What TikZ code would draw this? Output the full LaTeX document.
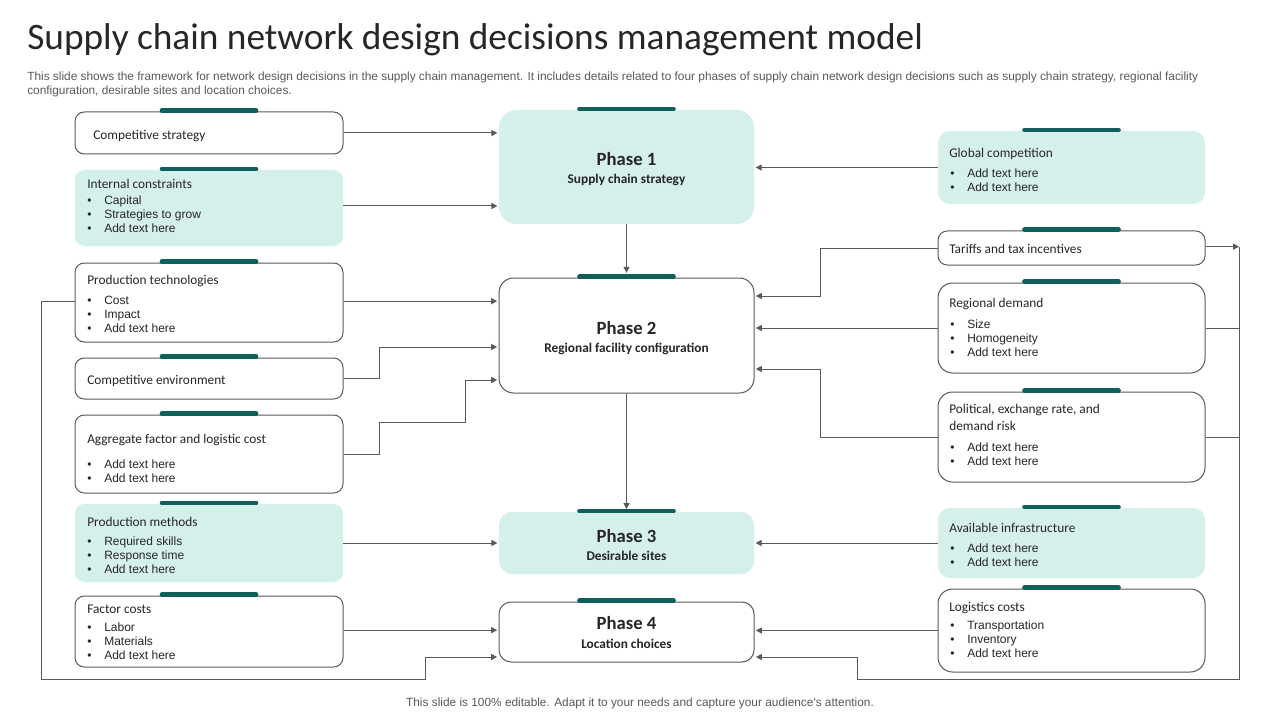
\documentclass[tikz,border=0pt]{standalone}
\usepackage{fontspec}
\setmainfont{Carlito}
\newfontfamily\arial{Liberation Sans}
\usetikzlibrary{arrows.meta,fit}
\definecolor{tealfill}{HTML}{D5F0EB}
\definecolor{tealbar}{HTML}{0F5F5B}
\definecolor{linegray}{HTML}{595959}
\definecolor{txt}{HTML}{262626}
\definecolor{desc}{HTML}{595959}
\tikzset{
 wbox/.style={draw=linegray, line width=0.75pt, fill=white, rounded corners=7pt, inner sep=0pt},
 wboxbig/.style={wbox, rounded corners=11pt},
 tbox/.style={fill=tealfill, rounded corners=7pt, inner sep=0pt},
 tboxbig/.style={tbox, rounded corners=13pt},
 topbar/.style={draw=tealbar, line width=3.4pt, line cap=round},
 conn/.style={draw=linegray, line width=0.75pt},
 arr/.style={conn, -{Triangle[length=4.5pt,width=4.5pt]}, shorten >=1pt},
 ttl/.style={anchor=base west, inner sep=0pt, font=\fontsize{10}{12}\selectfont, text=txt},
 bul/.style={anchor=base west, inner sep=0pt, font=\arial\fontsize{9}{10.5}\selectfont, text=txt},
 ph/.style={anchor=base, inner sep=0pt, font=\bfseries\fontsize{14}{16}\selectfont, text=txt},
 phs/.style={anchor=base, inner sep=0pt, font=\bfseries\fontsize{10}{12}\selectfont, text=txt},
 dsc/.style={inner sep=0pt, font=\arial\fontsize{8.9}{10.5}\selectfont, text=desc},
}
\newcommand\bitem[1]{\makebox[12.75pt][l]{\textbullet}#1}
\newcommand\blist[1]{\begin{tabular}[t]{@{}l@{}}#1\end{tabular}}
\newcommand\tbar[1]{\draw[topbar] ([xshift=-35.3pt,yshift=0.6pt]#1.north) -- ([xshift=35.3pt,yshift=0.6pt]#1.north);}
\begin{document}
\begin{tikzpicture}[x=0.75pt,y=-0.75pt]
\fill[white] (0,0) rectangle (1280,720);
\useasboundingbox (0,0) rectangle (1280,720);

% title and texts
\node[anchor=base west, inner sep=0pt, font=\fontsize{28}{34}\selectfont, text=txt] (title) at (27,50) {Supply chain network design decisions management model};
\node[dsc, anchor=base west] (d1) at (27,81) {This slide shows the framework for network design decisions in the supply chain management. It includes details related to four phases of supply chain network design decisions such as supply chain strategy, regional facility};
\node[dsc, anchor=base west] (d2) at (27,95) {configuration, desirable sites and location choices.};
\node[dsc, anchor=base] (foot) at (640,706) {This slide is 100\% editable. Adapt it to your needs and capture your audience's attention.};

% left boxes
\node[wbox, fit={(75,112)(343,154)}] (cs) {};
\node[tbox, fit={(75,170)(343,246)}] (ic) {};
\node[wbox, fit={(75,263)(343,342)}] (pt) {};
\node[wbox, fit={(75,358)(343,399)}] (ce) {};
\node[wbox, fit={(75,415)(343,493)}] (ag) {};
\node[tbox, fit={(75,504)(343,582)}] (pm) {};
\node[wbox, fit={(75,596)(343,667)}] (fc) {};
% phases
\node[tboxbig, fit={(499,110)(754,224)}] (p1) {};
\node[wboxbig, fit={(499,278)(754,393)}] (p2) {};
\node[tbox, rounded corners=10pt, fit={(499,512)(754,574)}] (p3) {};
\node[wbox, rounded corners=9pt, fit={(499,602)(754,662)}] (p4) {};
% right boxes
\node[tbox, rounded corners=9pt, fit={(938,131)(1205,204)}] (gc) {};
\node[wbox, fit={(938,231)(1205,265)}] (ta) {};
\node[wboxbig, fit={(938,283)(1205,373)}] (rd) {};
\node[wboxbig, fit={(938,392)(1205,482)}] (po) {};
\node[tbox, rounded corners=9pt, fit={(938,508)(1205,578)}] (ai) {};
\node[wboxbig, fit={(938,589)(1205,672)}] (lc) {};

% bars
\foreach \n in {cs,ic,pt,ce,ag,pm,fc,p1,p2,p3,p4,gc,ta,rd,po,ai,lc}{\tbar{\n}}

% left texts
\node[ttl] (cst) at (93,139.5) {Competitive strategy};
\node[ttl] (ict) at (87,188.5) {Internal constraints};
\node[bul] (icb) at (87,204.5) {\blist{\bitem{Capital}\\\bitem{Strategies to grow}\\\bitem{Add text here}}};
\node[ttl] (ptt) at (87,284.5) {Production technologies};
\node[bul] (ptb) at (87,304.5) {\blist{\bitem{Cost}\\\bitem{Impact}\\\bitem{Add text here}}};
\node[ttl] (cet) at (87,384.5) {Competitive environment};
\node[ttl] (agt) at (87,443.5) {Aggregate factor and logistic cost};
\node[bul] (agb) at (87,468.5) {\blist{\bitem{Add text here}\\\bitem{Add text here}}};
\node[ttl] (pmt) at (87,526.5) {Production methods};
\node[bul] (pmb) at (87,545.5) {\blist{\bitem{Required skills}\\\bitem{Response time}\\\bitem{Add text here}}};
\node[ttl] (fct) at (87,613.5) {Factor costs};
\node[bul] (fcb) at (87,631.5) {\blist{\bitem{Labor}\\\bitem{Materials}\\\bitem{Add text here}}};

% phase texts
\node[ph] (p1a) at (626.5,166) {Phase 1};
\node[phs] (p1b) at (626.5,184) {Supply chain strategy};
\node[ph] (p2a) at (626.5,334) {Phase 2};
\node[phs] (p2b) at (626.5,352) {Regional facility configuration};
\node[ph] (p3a) at (626.5,542) {Phase 3};
\node[phs] (p3b) at (626.5,560) {Desirable sites};
\node[ph] (p4a) at (626.5,629) {Phase 4};
\node[phs] (p4b) at (626.5,648) {Location choices};

% right texts
\node[ttl] (gct) at (949,157.5) {Global competition};
\node[bul] (gcb) at (950,177.5) {\blist{\bitem{Add text here}\\\bitem{Add text here}}};
\node[ttl] (tat) at (949,253.5) {Tariffs and tax incentives};
\node[ttl] (rdt) at (949,307.5) {Regional demand};
\node[bul] (rdb) at (950,328.5) {\blist{\bitem{Size}\\\bitem{Homogeneity}\\\bitem{Add text here}}};
\node[ttl] (pot1) at (949,413.5) {Political, exchange rate, and};
\node[ttl] (pot2) at (949,430.5) {demand risk};
\node[bul] (pob) at (950,451.5) {\blist{\bitem{Add text here}\\\bitem{Add text here}}};
\node[ttl] (ait) at (949,532.5) {Available infrastructure};
\node[bul] (aib) at (950,552.5) {\blist{\bitem{Add text here}\\\bitem{Add text here}}};
\node[ttl] (lct) at (949,611.5) {Logistics costs};
\node[bul] (lcb) at (950,629.5) {\blist{\bitem{Transportation}\\\bitem{Inventory}\\\bitem{Add text here}}};

% bend coordinates
\coordinate (c1) at (379,347);
\coordinate (c2) at (379,422);
\coordinate (c3) at (465,380);
\coordinate (c4) at (41,679);
\coordinate (c5) at (425,657);
\coordinate (c6) at (820,296);
\coordinate (c7) at (820,369);
\coordinate (c8) at (1239,679);
\coordinate (c9) at (857,657);

% connectors
\draw[arr] (cs.east) -- (cs.east -| p1.west);
\draw[arr] ([yshift=1.5pt]ic.east) -- ([yshift=1.5pt]ic.east -| p1.west);
\draw[arr] (gc.west) -- (gc.west -| p1.east);
\draw[arr, shorten >=3.5pt] (p1.south) -- (p2.north);
\draw[arr] ([yshift=1pt]pt.east) -- ([yshift=1pt]pt.east -| p2.west);
\draw[arr] (ce.east) -| (c1) -- (c1 -| p2.west);
\draw[arr] (ag.east) -| (c2) -| (c3) -- (c3 -| p2.west);
\draw[arr, shorten >=2pt] (p2.south) -- (p3.north);
\draw[arr] (pm.east) -- (pm.east -| p3.west);
\draw[arr] ([yshift=1pt]fc.east) -- ([yshift=1pt]fc.east -| p4.west);
\draw[arr] ([yshift=1pt]pt.west) -| (c4) -| (c5) -- (c5 -| p4.west);
\draw[arr] (ta.west) -| (c6) -- (c6 -| p2.east);
\draw[arr] (rd.west) -- (rd.west -| p2.east);
\draw[arr] (po.west) -| (c7) -- (c7 -| p2.east);
\draw[arr] (ai.west) -- (ai.west -| p3.east);
\draw[arr] (lc.west) -- (lc.west -| p4.east);
\draw[arr, shorten >=0pt] ([yshift=1pt]ta.east) -- ([yshift=1pt]ta.east -| c8);
\draw[conn] (rd.east) -- (rd.east -| c8);
\draw[conn] (po.east) -- (po.east -| c8);
\draw[arr] ([yshift=1pt]c8 |- ta.east) -- (c8) -| (c9) -- (c9 -| p4.east);
\end{tikzpicture}
\end{document}
